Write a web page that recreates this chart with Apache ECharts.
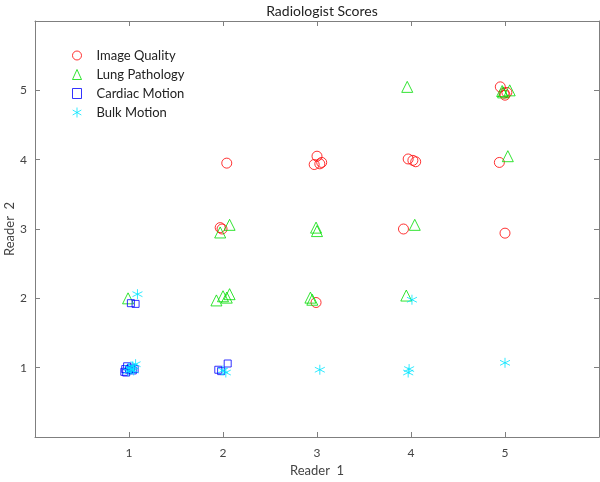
<!DOCTYPE html>
<html><head><meta charset="utf-8">
<script src="https://cdn.jsdelivr.net/npm/echarts@6/dist/echarts.min.js"></script>
<style>html,body{margin:0;padding:0;background:#fff}#c{width:600px;height:482px}</style>
</head><body><div id="c"></div>
<script>
const title = 'Radiologist Scores';
const xName = 'Reader  1';
const yName = 'Reader  2';
const tickLabels = ['', '1', '2', '3', '4', '5', ''];
const seriesNames = ['Image Quality', 'Lung Pathology', 'Cardiac Motion', 'Bulk Motion'];

const imageQuality = [
  [2.04, 3.95], [1.97, 3.02], [1.99, 3.00],
  [2.99, 1.94],
  [2.97, 3.93], [3.00, 4.05], [3.05, 3.96], [3.03, 3.94],
  [3.97, 4.01], [4.02, 3.99], [4.05, 3.97],
  [3.92, 3.00],
  [4.95, 5.05], [4.99, 4.96], [5.00, 4.93], [5.02, 4.97],
  [4.94, 3.96],
  [5.00, 2.94]
];
const lungPathology = [
  [3.96, 5.05],
  [4.98, 4.97], [5.05, 5.00], [4.97, 4.99],
  [5.03, 4.05],
  [4.04, 3.06],
  [3.95, 2.04],
  [2.99, 3.02], [3.00, 2.97],
  [2.93, 2.01], [2.95, 1.98],
  [2.07, 3.06], [1.97, 2.95],
  [1.93, 1.97], [2.00, 2.03], [2.07, 2.06], [2.04, 2.01],
  [0.99, 2.00]
];
const cardiacMotion = [
  [1.02, 1.93], [1.07, 1.92],
  [0.95, 0.94], [0.97, 0.93], [1.00, 0.97], [1.02, 1.00], [1.04, 0.96], [0.98, 1.02], [1.06, 0.98], [0.96, 0.98],
  [2.05, 1.06], [1.95, 0.97], [1.98, 0.95]
];
const bulkMotion = [
  [1.09, 2.06],
  [1.00, 1.00], [1.02, 0.97], [1.04, 1.02], [1.07, 1.05], [0.99, 0.95], [1.05, 0.96],
  [2.00, 0.96], [2.03, 0.93],
  [3.03, 0.97],
  [4.01, 1.98],
  [3.97, 0.93], [3.98, 0.98],
  [5.00, 1.07]
];

const axisColor = '#7f7f7f';
const labelColor = '#444';
const font = 'Lato, "Open Sans", sans-serif';
const asterisk = 'path://M0,-5L0,5M-4.33,-2.5L4.33,2.5M-4.33,2.5L4.33,-2.5';

function mk(name, data, symbol, size, color) {
  return {
    name, type: 'scatter', data, symbol, symbolSize: size,
    xAxisIndex: 0, yAxisIndex: 0,
    itemStyle: { color: 'rgba(0,0,0,0)', borderColor: color, borderWidth: 1 },
    emphasis: { disabled: true }
  };
}

const baseAxis = {
  type: 'value', min: 0, max: 6, interval: 1,
  axisLine: { show: true, onZero: false, lineStyle: { color: axisColor } },
  axisTick: { show: true, inside: true, length: 5, lineStyle: { color: axisColor } },
  splitLine: { show: false }
};

const chart = echarts.init(document.getElementById('c'), null, { renderer: 'canvas' });
chart.setOption({
  animation: false,
  backgroundColor: '#fff',
  title: {
    text: title, left: 317, top: -1, textAlign: 'center',
    textStyle: { fontFamily: font, fontSize: 14, fontWeight: 'normal', color: '#222' }
  },
  grid: { left: 35, right: 1, top: 21, bottom: 45, containLabel: false, outerBoundsMode: 'none' },
  legend: {
    orient: 'vertical', left: 67, top: 44, itemGap: 6, itemWidth: 9, itemHeight: 10,
    itemStyle: { borderWidth: 1 },
    textStyle: { fontFamily: font, fontSize: 13, color: '#222', padding: [0, 0, 0, 10] },
    data: seriesNames
  },
  xAxis: [
    Object.assign({}, baseAxis, {
      position: 'bottom', name: xName, nameLocation: 'middle', nameGap: 27, nameMoveOverlap: false,
      nameTextStyle: { fontFamily: font, fontSize: 13, color: labelColor },
      axisLabel: { fontFamily: font, fontSize: 12, color: labelColor, margin: 10,
        formatter: v => tickLabels[v] }
    }),
    Object.assign({}, baseAxis, { position: 'top', axisLabel: { show: false } })
  ],
  yAxis: [
    Object.assign({}, baseAxis, {
      position: 'left', name: yName, nameLocation: 'middle', nameGap: 19, nameMoveOverlap: false,
      nameTextStyle: { fontFamily: font, fontSize: 13, color: labelColor },
      axisLabel: { fontFamily: font, fontSize: 12, color: labelColor, margin: 8,
        formatter: v => tickLabels[v] }
    }),
    Object.assign({}, baseAxis, { position: 'right', axisLabel: { show: false } })
  ],
  series: [
    mk(seriesNames[0], imageQuality, 'circle', 10, '#ff0000'),
    mk(seriesNames[1], lungPathology, 'triangle', 11, '#00dd00'),
    mk(seriesNames[2], cardiacMotion, 'rect', 7, '#0000ff'),
    mk(seriesNames[3], bulkMotion, asterisk, 10, '#00e5ff')
  ]
});
</script></body></html>
